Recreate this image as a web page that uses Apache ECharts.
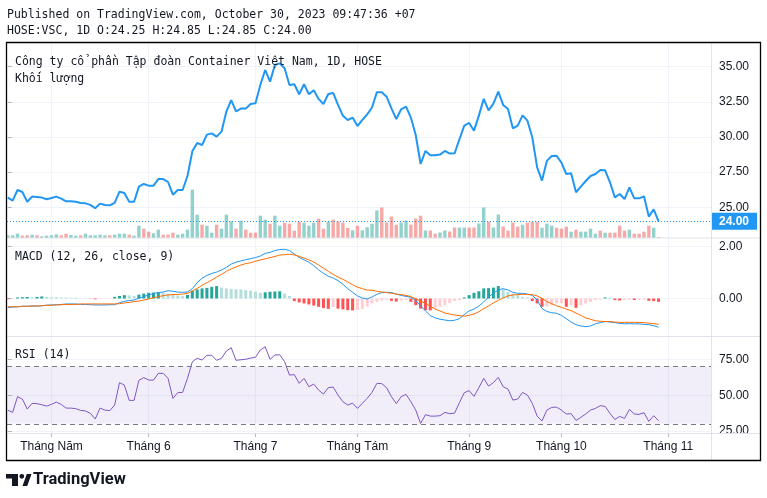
<!DOCTYPE html>
<html><head><meta charset="utf-8">
<script src="https://cdn.jsdelivr.net/npm/echarts@6/dist/echarts.min.js"></script>
<style>html,body{margin:0;padding:0;background:#fff}#c{width:767px;height:498px}</style>
</head><body><div id="c"></div>
<script>
// ---- data (index 0 = 18/04/2023 ... index 134 = 30/10/2023, trading days) ----
const close = [
25.69,25.47,26.23,26.09,25.40,25.76,25.74,25.69,25.57,25.66,
25.76,25.62,25.43,25.43,25.40,25.31,25.28,25.17,24.93,25.26,
25.17,25.14,25.31,26.11,26.02,25.40,25.40,26.47,26.66,26.54,
26.54,27.01,27.01,26.80,25.90,26.23,26.23,27.23,28.98,29.58,
29.43,30.17,30.26,30.03,30.38,31.80,32.63,31.83,32.02,32.02,
32.35,32.40,33.70,34.77,33.94,35.12,35.24,34.89,33.70,33.75,
33.04,33.75,33.04,33.32,32.71,32.35,33.06,33.13,32.28,31.52,
31.21,31.38,30.78,31.21,31.61,32.10,33.19,33.18,32.87,32.04,
31.28,31.97,32.16,31.38,30.14,28.08,29.01,28.70,28.70,28.75,
29.01,28.82,28.84,29.84,30.81,31.00,30.45,31.52,32.71,31.90,
32.37,33.23,32.28,31.99,30.62,30.81,31.54,31.16,29.98,27.84,
26.90,28.30,28.65,28.67,28.18,27.37,27.42,26.07,26.47,26.87,
27.23,27.37,27.66,27.63,26.78,25.71,25.95,25.59,26.42,25.64,
25.64,25.78,24.34,24.86,24.00];
const volume = [
270,270,430,230,270,330,270,170,230,270,
370,270,430,300,230,270,430,270,270,330,
270,270,330,430,430,330,230,1230,930,630,
470,830,330,330,530,330,430,830,4830,2330,
1330,1230,530,1330,930,2330,1670,930,1730,830,
530,530,2230,1830,1430,2230,1230,1530,1430,730,
1630,1530,1230,1530,1930,930,1630,1830,1650,1550,
1000,770,1230,770,1070,1430,2750,3050,1550,2150,
1330,1550,1750,1330,1950,2230,750,750,430,550,
750,650,1050,1050,1050,1050,1050,1450,3050,1650,
1050,2350,1150,730,1550,1130,1330,1530,1630,1630,
1030,1430,1230,1030,930,1130,630,830,630,630,
930,430,730,530,530,530,1230,730,830,430,
430,630,1230,1030,100];
const volumeUp = [
1,1,1,0,0,1,0,1,1,1,
1,0,0,1,1,0,1,1,1,1,
1,0,1,1,1,0,1,1,0,0,
1,1,0,0,0,1,1,1,1,1,
0,1,1,0,1,1,1,0,1,0,
0,0,1,1,0,1,1,0,0,0,
0,1,1,1,0,0,1,0,0,0,
0,1,0,1,1,1,1,0,0,0,
0,1,1,0,0,0,1,0,0,1,
1,0,0,1,1,0,0,1,1,0,
1,1,0,0,0,0,1,0,0,0,
1,1,1,0,0,0,1,0,1,1,
1,1,0,1,0,0,0,0,1,0,
0,0,0,1,0];
const macd = [
-0.35,-0.33,-0.32,-0.30,-0.30,-0.29,-0.29,-0.28,-0.26,-0.25,
-0.24,-0.23,-0.21,-0.21,-0.21,-0.23,-0.23,-0.24,-0.25,-0.25,
-0.25,-0.24,-0.24,-0.16,-0.11,-0.08,-0.06,0.01,0.07,0.14,
0.19,0.23,0.25,0.30,0.28,0.25,0.24,0.25,0.38,0.61,
0.78,0.89,0.97,1.02,1.10,1.20,1.33,1.40,1.45,1.50,
1.54,1.58,1.64,1.74,1.78,1.85,1.89,1.90,1.85,1.72,
1.59,1.49,1.40,1.27,1.11,0.97,0.86,0.79,0.69,0.55,
0.38,0.24,0.10,0.02,-0.02,0.06,0.16,0.23,0.24,0.23,
0.17,0.12,0.08,0.05,-0.08,-0.28,-0.48,-0.66,-0.75,-0.80,
-0.83,-0.86,-0.84,-0.78,-0.62,-0.48,-0.41,-0.29,-0.13,0.05,
0.21,0.33,0.38,0.33,0.24,0.20,0.20,0.17,0.12,-0.06,
-0.39,-0.50,-0.55,-0.57,-0.65,-0.78,-0.91,-1.01,-1.06,-1.09,
-1.06,-0.98,-0.93,-0.89,-0.91,-0.93,-0.96,-0.98,-0.97,-0.98,
-0.98,-1.00,-1.01,-1.05,-1.11];
const signal = [
-0.32,-0.32,-0.32,-0.30,-0.30,-0.29,-0.29,-0.28,-0.26,-0.26,
-0.25,-0.24,-0.23,-0.23,-0.23,-0.21,-0.21,-0.21,-0.21,-0.21,
-0.21,-0.21,-0.21,-0.20,-0.17,-0.15,-0.12,-0.10,-0.06,-0.02,
0.03,0.07,0.11,0.14,0.15,0.16,0.17,0.20,0.29,0.39,
0.51,0.61,0.71,0.83,0.93,1.05,1.14,1.22,1.29,1.35,
1.38,1.44,1.49,1.53,1.58,1.62,1.68,1.69,1.71,1.68,
1.63,1.56,1.49,1.41,1.29,1.17,1.05,0.93,0.83,0.74,
0.64,0.53,0.44,0.38,0.33,0.32,0.28,0.25,0.23,0.20,
0.17,0.15,0.12,0.07,-0.01,-0.10,-0.19,-0.30,-0.41,-0.48,
-0.56,-0.60,-0.64,-0.66,-0.68,-0.65,-0.60,-0.51,-0.39,-0.29,
-0.17,-0.07,0.02,0.10,0.14,0.15,0.16,0.16,0.15,0.10,
0.01,-0.12,-0.20,-0.28,-0.34,-0.41,-0.47,-0.56,-0.65,-0.75,
-0.80,-0.86,-0.88,-0.89,-0.89,-0.91,-0.92,-0.92,-0.92,-0.92,
-0.93,-0.93,-0.95,-0.97,-1.00];
const hist = [
-0.03,-0.01,0.04,0.05,0.06,0.05,0.06,0.08,0.06,0.05,
0.05,0.04,0.04,0.03,0.03,0.01,0.01,-0.01,-0.03,-0.02,
-0.01,-0.005,0.06,0.10,0.13,0.12,0.10,0.15,0.19,0.22,
0.23,0.24,0.22,0.18,0.14,0.12,0.09,0.14,0.30,0.35,
0.39,0.41,0.45,0.48,0.42,0.39,0.37,0.36,0.35,0.32,
0.30,0.26,0.22,0.24,0.26,0.27,0.28,0.19,0.10,-0.10,
-0.15,-0.19,-0.23,-0.27,-0.32,-0.37,-0.40,-0.32,-0.39,-0.42,
-0.45,-0.46,-0.44,-0.40,-0.31,-0.19,-0.13,-0.08,-0.05,-0.09,
-0.12,-0.08,-0.06,-0.13,-0.26,-0.39,-0.45,-0.46,-0.39,-0.32,
-0.26,-0.17,-0.10,-0.06,0.04,0.13,0.22,0.28,0.39,0.40,
0.42,0.48,0.35,0.26,0.19,0.13,0.06,0.04,-0.10,-0.19,
-0.32,-0.31,-0.26,-0.19,-0.18,-0.32,-0.26,-0.36,-0.26,-0.19,
-0.13,-0.06,-0.04,0.04,0.03,-0.06,-0.08,-0.06,-0.04,-0.06,
-0.05,-0.04,-0.09,-0.10,-0.13];
const rsi = [
39.6,38.0,49.0,47.3,40.3,44.3,44.1,43.4,42.4,43.6,
45.2,43.6,41.0,41.0,40.6,39.4,39.0,37.3,33.4,41.0,
39.6,39.2,43.1,58.8,57.1,46.4,46.4,60.4,62.3,60.6,
60.6,65.3,65.3,61.8,47.8,51.8,52.0,61.8,73.4,75.8,
74.6,77.9,77.9,74.4,75.8,80.9,83.2,74.4,74.8,75.1,
76.0,76.5,81.6,83.9,75.1,78.1,78.3,73.4,64.1,64.4,
58.3,61.8,56.0,57.8,53.6,50.8,55.3,55.7,50.1,45.5,
43.1,44.5,40.8,44.3,47.8,52.0,58.3,58.1,55.3,49.0,
44.1,49.0,50.6,45.5,39.6,30.3,36.4,35.4,35.4,35.7,
38.0,37.1,37.5,44.8,51.8,53.2,49.2,55.3,61.8,56.4,
58.8,62.5,56.0,54.3,46.6,47.3,52.0,50.1,44.3,35.4,
32.0,39.6,41.5,41.7,39.6,36.9,37.1,32.4,34.5,36.9,
39.6,40.8,42.7,42.2,37.3,33.1,35.2,33.8,40.1,36.9,
36.6,37.8,31.7,35.7,32.2];
const monthTickIndex = [9, 29, 51, 72, 95, 114, 136];
const monthLabels = ['Tháng Năm', 'Tháng 6', 'Tháng 7', 'Tháng Tám', 'Tháng 9', 'Tháng 10', 'Tháng 11'];
const priceTicks = [25, 27.5, 30, 32.5, 35];
const macdTicks = [0, 2];
const rsiTicks = [25, 50, 75];
const rsiBand = [30, 70];
const lastPrice = 24.00;
const headerLines = ['Published on TradingView.com, October 30, 2023 09:47:36 +07',
                     'HOSE:VSC, 1D O:24.25 H:24.85 L:24.85 C:24.00'];
const paneTitles = ['Công ty cổ phần Tập đoàn Container Việt Nam, 1D, HOSE', 'Khối lượng', 'MACD (12, 26, close, 9)', 'RSI (14)'];

// ---- chart ----
const chart = echarts.init(document.getElementById('c'), null, {renderer: 'canvas'});
const GRID = '#F0F3FA', TXT = '#131722', TICK = '#B2B5BE';
const X_MIN = -0.164, X_MAX = 144.8;
const mono = 'DejaVu Sans Mono';

function xAx(gi, showLabels) {
  return {
    type: 'value', gridIndex: gi, min: X_MIN, max: X_MAX,
    axisLine: {show: false},
    axisTick: {show: showLabels, customValues: monthTickIndex, length: 4, lineStyle: {color: TICK}},
    axisLabel: {show: showLabels, customValues: monthTickIndex, color: TXT, fontSize: 12, margin: 8,
      fontFamily: 'Liberation Sans',
      formatter: v => { const k = monthTickIndex.indexOf(v); return k >= 0 ? monthLabels[k] : ''; }},
    splitLine: {show: true, lineStyle: {color: GRID, width: 1}}
  };
}
function yAx(gi, min, max, ticks) {
  return {
    type: 'value', gridIndex: gi, position: 'right', min: min, max: max,
    axisLine: {show: false},
    axisTick: {show: true, customValues: ticks, length: 4, lineStyle: {color: TICK}},
    axisLabel: {customValues: ticks, color: TXT, fontSize: 12, margin: 8, fontFamily: 'Liberation Sans',
      formatter: v => v.toFixed(2)},
    splitLine: {show: true, lineStyle: {color: GRID, width: 1}}
  };
}

const histColor = p => {
  const i = p.dataIndex, v = hist[i], prev = i > 0 ? hist[i - 1] : 0;
  if (v >= 0) return prev < v ? '#26A69A' : '#B2DFDB';
  return prev < v ? '#FFCDD2' : '#FF5252';
};

const option = {
  animation: false,
  backgroundColor: '#fff',
  grid: [
    {left: 7, right: 56, top: 43, height: 195},
    {left: 7, right: 56, top: 238, height: 98.5},
    {left: 7, right: 56, top: 336.5, height: 96.5}
  ],
  xAxis: [xAx(0, false), xAx(1, false), xAx(2, true)],
  yAxis: [
    yAx(0, 22.817, 36.686, priceTicks),
    {type: 'value', gridIndex: 0, min: 0, max: 19500, show: false, splitLine: {show: false}},
    yAx(1, -1.467, 2.336, macdTicks),
    yAx(2, 23.6, 91.05, rsiTicks)
  ],
  series: [
    {type: 'bar', xAxisIndex: 0, yAxisIndex: 1, barWidth: 3.4, silent: true, z: 1,
     data: volume.map((v, i) => ({value: [i, v], itemStyle: {color: volumeUp[i] ? 'rgba(38,166,154,0.5)' : 'rgba(239,83,80,0.5)'}}))},
    {type: 'line', xAxisIndex: 0, yAxisIndex: 0, symbol: 'none', clip: false, z: 3,
     lineStyle: {color: '#2196F3', width: 2},
     data: close.map((v, i) => [i, v]),
     markLine: {symbol: 'none', silent: true,
       lineStyle: {color: '#2196F3', width: 1, type: [1, 2]},
       label: {show: true, position: 'end', distance: 0, formatter: lastPrice.toFixed(2),
         backgroundColor: '#2196F3', color: '#fff', fontSize: 12, fontWeight: 'bold',
         fontFamily: 'Liberation Sans', padding: [3, 8, 2, 8]},
       data: [{yAxis: lastPrice}]}},
    {type: 'bar', xAxisIndex: 1, yAxisIndex: 2, barWidth: 3, silent: true,
     itemStyle: {color: histColor},
     data: hist.map((v, i) => [i, v])},
    {type: 'line', xAxisIndex: 1, yAxisIndex: 2, symbol: 'none', lineStyle: {color: '#2196F3', width: 1},
     data: macd.map((v, i) => [i, v])},
    {type: 'line', xAxisIndex: 1, yAxisIndex: 2, symbol: 'none', lineStyle: {color: '#FF6D00', width: 1},
     data: signal.map((v, i) => [i, v])},
    {type: 'line', xAxisIndex: 2, yAxisIndex: 3, symbol: 'none', lineStyle: {color: '#7E57C2', width: 1},
     data: rsi.map((v, i) => [i, v]),
     markArea: {silent: true, itemStyle: {color: 'rgba(126,87,194,0.1)'},
       data: [[{yAxis: rsiBand[0]}, {yAxis: rsiBand[1]}]]},
     markLine: {symbol: 'none', silent: true, label: {show: false},
       lineStyle: {color: '#787B86', width: 1, type: [5, 4]},
       data: rsiBand.map(v => ({yAxis: v}))}}
  ],
  graphic: [
    {type: 'rect', shape: {x: 712, y: 433.5, width: 48, height: 27}, style: {fill: '#fff'}, z: 100},
    {type: 'line', shape: {x1: 7, y1: 238, x2: 761, y2: 238}, style: {stroke: '#E0E3EB', lineWidth: 1}, z: 101},
    {type: 'line', shape: {x1: 7, y1: 336.5, x2: 761, y2: 336.5}, style: {stroke: '#E0E3EB', lineWidth: 1}, z: 101},
    {type: 'line', shape: {x1: 7, y1: 433.5, x2: 761, y2: 433.5}, style: {stroke: '#E0E3EB', lineWidth: 1}, z: 101},
    {type: 'line', shape: {x1: 711.5, y1: 42, x2: 711.5, y2: 461}, style: {stroke: '#E0E3EB', lineWidth: 1}, z: 101},
    {type: 'rect', shape: {x: 6.5, y: 42.5, width: 754, height: 418}, style: {fill: 'none', stroke: '#000', lineWidth: 1.3}, z: 102},
    {type: 'text', x: 7, y: 15, z: 102, style: {text: headerLines[0], font: '11.5px "' + mono + '"', fill: TXT, verticalAlign: 'middle'}},
    {type: 'text', x: 7, y: 31, z: 102, style: {text: headerLines[1], font: '11.5px "' + mono + '"', fill: TXT, verticalAlign: 'middle'}},
    {type: 'text', x: 15, y: 62.5, z: 102, style: {text: paneTitles[0], font: '11.5px "' + mono + '"', fill: TXT, verticalAlign: 'middle'}},
    {type: 'text', x: 15, y: 79.5, z: 102, style: {text: paneTitles[1], font: '11.5px "' + mono + '"', fill: TXT, verticalAlign: 'middle'}},
    {type: 'text', x: 15, y: 257, z: 102, style: {text: paneTitles[2], font: '11.5px "' + mono + '"', fill: TXT, verticalAlign: 'middle'}},
    {type: 'text', x: 15, y: 355.5, z: 102, style: {text: paneTitles[3], font: '11.5px "' + mono + '"', fill: TXT, verticalAlign: 'middle'}},
    {type: 'rect', shape: {x: 6, y: 474, width: 12, height: 4.5}, style: {fill: '#131722'}, z: 102},
    {type: 'rect', shape: {x: 12, y: 474, width: 6, height: 12}, style: {fill: '#131722'}, z: 102},
    {type: 'circle', shape: {cx: 21.8, cy: 476.3, r: 2.4}, style: {fill: '#131722'}, z: 102},
    {type: 'polygon', shape: {points: [[22.5, 486], [26.8, 474], [31.5, 474], [27.2, 486]]}, style: {fill: '#131722'}, z: 102},
    {type: 'text', x: 33, y: 480, z: 102, style: {text: 'TradingView', font: 'bold 16.5px Roboto', fill: '#131722', verticalAlign: 'middle'}}
  ]
};
chart.setOption(option);
</script>
</body></html>
